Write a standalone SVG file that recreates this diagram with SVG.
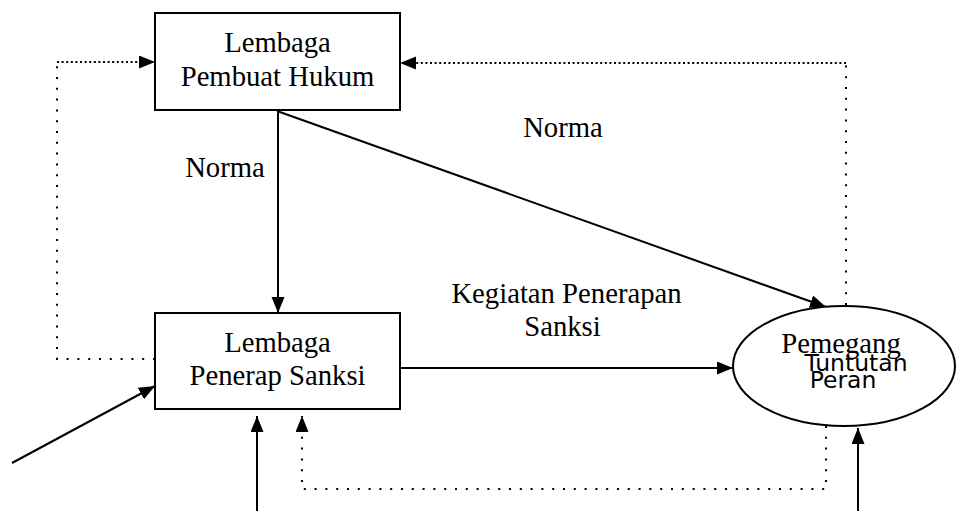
<svg xmlns="http://www.w3.org/2000/svg" width="956" height="511" viewBox="0 0 956 511">
<defs>
<marker id="ah" markerUnits="userSpaceOnUse" markerWidth="17" markerHeight="14" refX="16" refY="6.5" orient="auto">
<path d="M0,0 L16,6.5 L0,13 z" fill="#000" stroke="none"/>
</marker>
<style>
.box{fill:#fff;stroke:#000;stroke-width:2}
.t{font-family:'Liberation Serif','Times New Roman',serif;font-size:28.7px;fill:#000;text-anchor:middle}
.s{font-family:'DejaVu Sans',sans-serif;font-size:23.5px;fill:#000;text-anchor:middle}
.ln{fill:none;stroke:#000;stroke-width:2}
.dn{fill:none;stroke:#000;stroke-width:2;stroke-dasharray:2 2.6}
.ds{fill:none;stroke:#000;stroke-width:2;stroke-dasharray:2 8.8}
</style>
</defs>
<rect width="956" height="511" fill="#fff"/>
<g id="connectors">
<path class="ds" d="M155,359 H57 V62"/>
<path class="dn" d="M57,62 H155" marker-end="url(#ah)"/>
<path class="ds" d="M846,305 V63"/>
<path class="dn" d="M846,63 H400" marker-end="url(#ah)"/>
<path class="ds" d="M826,426 V489 H302 V416" marker-end="url(#ah)"/>
<path class="ln" d="M278,110 V313" marker-end="url(#ah)"/>
<path class="ln" d="M277,111 L826,307" marker-end="url(#ah)"/>
<path class="ln" d="M400,368 H733" marker-end="url(#ah)"/>
<path class="ln" d="M12,463 L155,386" marker-end="url(#ah)"/>
<path class="ln" d="M257,511 V416" marker-end="url(#ah)"/>
<path class="ln" d="M858,511 V428" marker-end="url(#ah)"/>
</g>
<g id="labels">
<text class="t" x="225" y="177">Norma</text>
<text class="t" x="563" y="137">Norma</text>
<text class="t" x="566.5" y="303">Kegiatan Penerapan</text>
<text class="t" x="562.5" y="336">Sanksi</text>
</g>
<g id="pembuat">
<rect class="box" x="155" y="13" width="245" height="97"/>
<text class="t" x="277.5" y="52">Lembaga</text>
<text class="t" x="277.5" y="86">Pembuat Hukum</text>
</g>
<g id="penerap">
<rect class="box" x="155" y="313" width="245" height="96"/>
<text class="t" x="277.5" y="352">Lembaga</text>
<text class="t" x="277.5" y="385">Penerap Sanksi</text>
</g>
<g id="pemegang">
<ellipse cx="844" cy="366" rx="111" ry="60" fill="#fff" stroke="#000" stroke-width="2"/>
<text class="t" x="841" y="353">Pemegang</text>
<text class="s" x="856" y="371">Tuntutan</text>
<text class="s" x="843" y="388">Peran</text>
</g>
</svg>
